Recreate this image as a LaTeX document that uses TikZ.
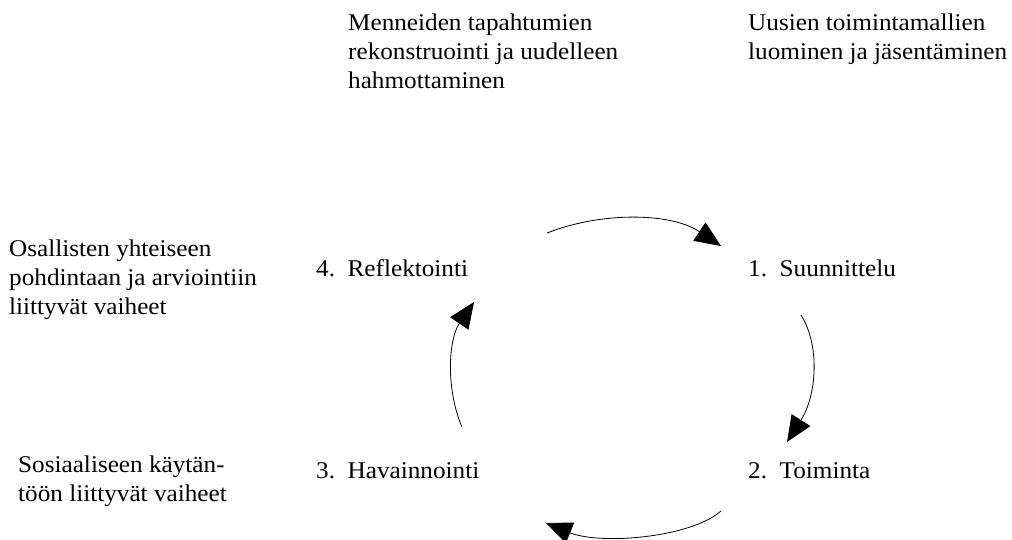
\documentclass[tikz,border=0pt]{standalone}
\usepackage{fontspec}
\setmainfont{Liberation Serif}[FakeStretch=1.05]
\usetikzlibrary{arrows.meta}
\begin{document}
\begin{tikzpicture}[x=1pt,y=-1pt,
  txt/.style={anchor=base west,inner sep=0pt,align=left,font=\fontsize{24}{29}\selectfont},
  cyc/.style={line width=0.8pt,-{Triangle[length=26pt,width=22pt]}}]
\useasboundingbox (0,0) rectangle (1012,539);
% anchor base = baseline of the last line
\node[txt] (past) at (348,88) {Menneiden tapahtumien\\rekonstruointi ja uudelleen\\hahmottaminen};
\node[txt] (new) at (748,59) {Uusien toimintamallien\\luominen ja jäsentäminen};
\node[txt] (joint) at (9,314) {Osallisten yhteiseen\\pohdintaan ja arviointiin\\liittyvät vaiheet};
\node[txt] (social) at (18,501) {Sosiaaliseen käytän-\\töön liittyvät vaiheet};
\node[txt] (refl) at (316,276) {4.\ \ Reflektointi};
\node[txt] (plan) at (748,276) {1.\ \ Suunnittelu};
\node[txt] (obs) at (316,478) {3.\ \ Havainnointi};
\node[txt] (act) at (748,478) {2.\ \ Toiminta};
\coordinate (a1s) at (547,233); \coordinate (a1e) at (721,246);
\coordinate (a2s) at (801,315); \coordinate (a2e) at (787,442);
\coordinate (a3s) at (721,511); \coordinate (a3e) at (546,523);
\coordinate (a4s) at (462,427); \coordinate (a4e) at (474,302);
\draw[cyc] (a1s) .. controls (600,212) and (670,212) .. (a1e);
\draw[cyc] (a2s) .. controls (820,345) and (817,395) .. (a2e);
\draw[cyc] (a3s) .. controls (690,538) and (600,545) .. (a3e);
\draw[cyc] (a4s) .. controls (446,390) and (448,340) .. (a4e);
\end{tikzpicture}
\end{document}
